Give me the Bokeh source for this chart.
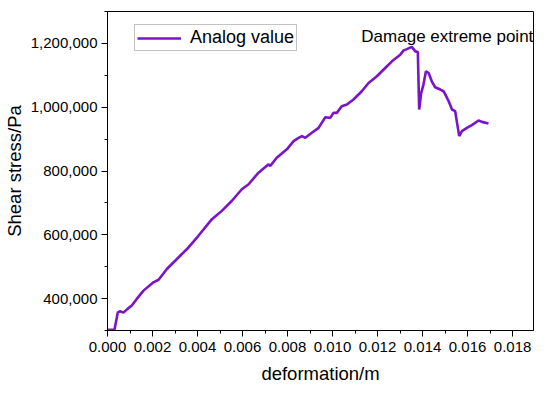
from bokeh.plotting import figure
from bokeh.models import (Range1d, SingleIntervalTicker, NumeralTickFormatter,
                          Legend, LegendItem, Label)
from bokeh.embed import file_html
from bokeh.resources import INLINE

# deformation (m) and shear stress (Pa)
deformation = [0.0, 0.00031, 0.00046, 0.00056, 0.00071, 0.00089, 0.00108, 0.0013,
               0.0016, 0.00204, 0.00227, 0.00264, 0.00323, 0.0036, 0.00404, 0.00464,
               0.00508, 0.00552, 0.00597, 0.00627, 0.00671, 0.00716, 0.00723, 0.00752,
               0.00797, 0.00827, 0.00849, 0.00864, 0.00879, 0.00908, 0.00938, 0.00968,
               0.0099, 0.01004, 0.01019, 0.01041, 0.01064, 0.01093, 0.0113, 0.0116,
               0.01197, 0.01234, 0.01264, 0.01301, 0.01316, 0.0133, 0.01352, 0.01368,
               0.01379, 0.01385, 0.01394, 0.01404, 0.01415, 0.01427, 0.01441, 0.01456,
               0.01479, 0.01493, 0.01501, 0.01516, 0.01531, 0.01545, 0.01552, 0.01563,
               0.01575, 0.01597, 0.01619, 0.01649, 0.01664, 0.01693]
shear_stress = [302000, 302000, 357000, 360300, 356000, 367800, 378100, 399000,
                425000, 451000, 459000, 492800, 534400, 560300, 596900, 649000,
                675000, 706000, 742800, 758400, 794700, 821000, 815600, 841600,
                867800, 893800, 904000, 909400, 904000, 919700, 935300, 968700,
                966600, 982200, 982200, 1003100, 1008400, 1024000, 1050000, 1075900,
                1096900, 1122800, 1143750, 1164700, 1178000, 1182000, 1189000, 1175000,
                1172800, 992800, 1044700, 1070900, 1112500, 1107200, 1081250, 1062500,
                1055300, 1050000, 1040000, 1018750, 992800, 987500, 956250, 909400,
                925000, 935300, 943750, 958400, 954000, 949000]

series_name = "Analog value"
annotation_text = "Damage extreme point"
annotation_x = 0.01128
annotation_y = 1222000

x_label = "deformation/m"
y_label = "Shear stress/Pa"

FONT = "Liberation Sans"
LINE_COLOR = "#7A14C8"

p = figure(width=534, height=388, output_backend="svg", toolbar_location=None,
           x_range=Range1d(0, 0.01893), y_range=Range1d(300000, 1300000),
           min_border_left=101, min_border_right=7, min_border_top=11,
           min_border_bottom=58)
p.frame_width = 426
p.frame_height = 319

p.xgrid.visible = False
p.ygrid.visible = False
p.outline_line_color = "black"
p.outline_line_width = 1
p.background_fill_color = "white"
p.border_fill_color = "white"

r = p.line(deformation, shear_stress, line_color=LINE_COLOR, line_width=2.6)

# axes
p.xaxis.ticker = SingleIntervalTicker(interval=0.002, num_minor_ticks=2)
p.yaxis.ticker = SingleIntervalTicker(interval=200000, num_minor_ticks=2)
p.xaxis.formatter = NumeralTickFormatter(format="0.000")
p.yaxis.formatter = NumeralTickFormatter(format="0,0")
for ax in (p.xaxis[0], p.yaxis[0]):
    ax.axis_line_color = "black"
    ax.axis_line_width = 1
    ax.major_tick_line_color = "black"
    ax.minor_tick_line_color = "black"
    ax.major_tick_in = 0
    ax.major_tick_out = 6
    ax.minor_tick_in = 0
    ax.minor_tick_out = 3
    ax.major_label_text_font = FONT
    ax.major_label_text_font_size = "15px"
    ax.major_label_text_color = "black"
    ax.axis_label_text_font = FONT
    ax.axis_label_text_font_style = "normal"
    ax.axis_label_text_color = "black"
p.xaxis.axis_label = x_label
p.yaxis.axis_label = y_label
p.xaxis.axis_label_text_font_size = "18.5px"
p.yaxis.axis_label_text_font_size = "18.5px"
p.xaxis.major_label_standoff = 5
p.yaxis.major_label_standoff = 4
p.xaxis.axis_label_standoff = 8
p.yaxis.axis_label_standoff = 3

legend = Legend(items=[LegendItem(label=series_name, renderers=[r])],
                location=(27, 279))
legend.label_text_font = FONT
legend.label_text_font_size = "18px"
legend.label_text_color = "black"
legend.glyph_width = 44
legend.glyph_height = 18
legend.label_height = 18
legend.label_standoff = 9
legend.padding = 2
legend.margin = 0
legend.spacing = 0
legend.border_line_color = "#888888"
legend.border_line_width = 1
legend.background_fill_alpha = 1
p.add_layout(legend)

p.add_layout(Label(x=annotation_x, y=annotation_y, text=annotation_text,
                   text_font=FONT, text_font_size="17px", text_color="black",
                   text_baseline="alphabetic"))

open("out.html", "w").write(file_html(p, INLINE))
